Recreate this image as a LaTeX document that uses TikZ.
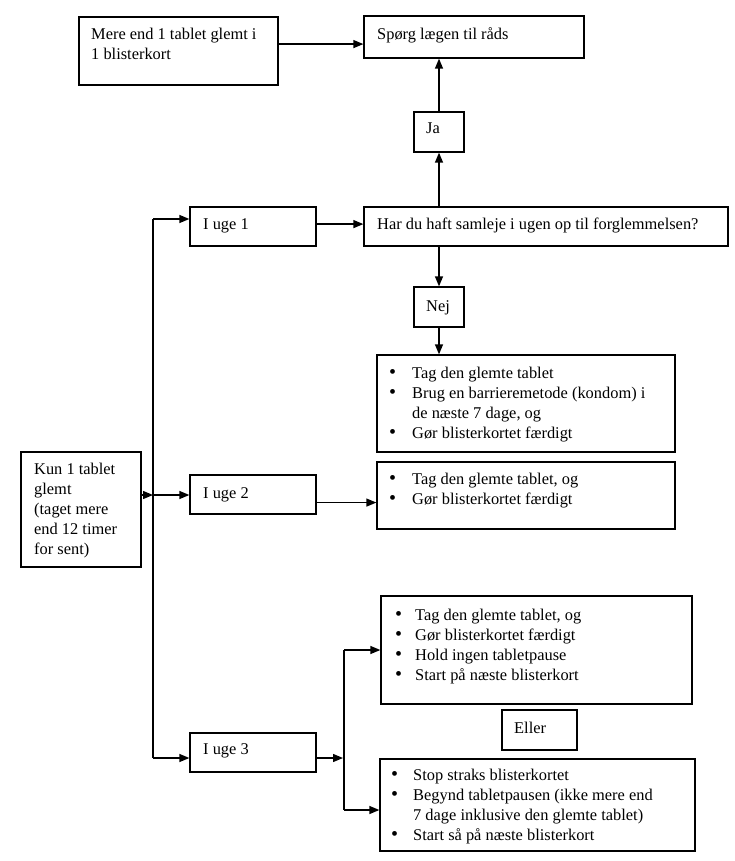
\documentclass[tikz,border=0pt]{standalone}
\usepackage{fontspec}
\setmainfont{Liberation Serif}
\usetikzlibrary{arrows.meta,fit,calc}
\newcommand{\mybul}[1]{\makebox[#1][l]{{\fontsize{20}{20}\selectfont\textbullet}}}
\begin{document}
\begin{tikzpicture}[x=1pt,y=-1pt,
  box/.style={draw, line width=1.3pt, inner sep=0pt, rectangle},
  txt/.style={inner sep=0pt, anchor=base west, font=\fontsize{16.4}{20}\selectfont},
  arr/.style={line width=1.3pt, -{Triangle[length=10pt,width=8pt]}},
  ln/.style={line width=1.3pt}]
\fill[white] (0,0) rectangle (735,861);
\useasboundingbox (0,0) rectangle (735,861);

% boxes
\node[box, fit={(79,17) (278,85)}] (A) {};
\node[box, fit={(364,16) (584,58)}] (B) {};
\node[box, fit={(414,112) (464,152)}] (Ja) {};
\node[box, fit={(190,207) (316,246)}] (U1) {};
\node[box, fit={(364,207) (728,246)}] (Har) {};
\node[box, fit={(414,287) (464,327)}] (Nej) {};
\node[box, fit={(377,355) (675,452)}] (B1) {};
\node[box, fit={(377,462) (675,529)}] (B2) {};
\node[box, fit={(21,452) (141,567)}] (Kun) {};
\node[box, fit={(190,475) (316,514)}] (U2) {};
\node[box, fit={(190,733) (316,772)}] (U3) {};
\node[box, fit={(381,596) (692,704)}] (B3) {};
\node[box, fit={(502,710) (577,750)}] (Eller) {};
\node[box, fit={(380,759) (695,851)}] (B4) {};

% texts
\node[txt] (At) at (91,40) {\begin{tabular}[t]{@{}l@{}}Mere end 1 tablet glemt i\\1 blisterkort\end{tabular}};
\node[txt] (Bt) at (377,40) {Spørg lægen til råds};
\node[txt] (Jat) at (426,134) {Ja};
\node[txt] (U1t) at (203,229) {I uge 1};
\node[txt] (Hart) at (377,229) {Har du haft samleje i ugen op til forglemmelsen?};
\node[txt] (Nejt) at (426,311) {Nej};
\node[txt] (B1t) at (389,378) {\begin{tabular}[t]{@{}l@{}}\mybul{23pt}Tag den glemte tablet\\\mybul{23pt}Brug en barrieremetode (kondom) i\\\hspace*{23pt}de næste 7 dage, og\\\mybul{23pt}Gør blisterkortet færdigt\end{tabular}};
\node[txt] (B2t) at (389,484) {\begin{tabular}[t]{@{}l@{}}\mybul{23pt}Tag den glemte tablet, og\\\mybul{23pt}Gør blisterkortet færdigt\end{tabular}};
\node[txt] (Kunt) at (34,474) {\begin{tabular}[t]{@{}l@{}}Kun 1 tablet\\glemt\\(taget mere\\end 12 timer\\for sent)\end{tabular}};
\node[txt] (U2t) at (203,498) {I uge 2};
\node[txt] (U3t) at (203,754) {I uge 3};
\node[txt] (B3t) at (395,620) {\begin{tabular}[t]{@{}l@{}}\mybul{20pt}Tag den glemte tablet, og\\\mybul{20pt}Gør blisterkortet færdigt\\\mybul{20pt}Hold ingen tabletpause\\\mybul{20pt}Start på næste blisterkort\end{tabular}};
\node[txt] (Ellert) at (514,733) {Eller};
\node[txt] (B4t) at (391,780) {\begin{tabular}[t]{@{}l@{}}\mybul{22pt}Stop straks blisterkortet\\\mybul{22pt}Begynd tabletpausen (ikke mere end\\\hspace*{22pt}7 dage inklusive den glemte tablet)\\\mybul{22pt}Start så på næste blisterkort\end{tabular}};

% connectors
\draw[arr] ($(A.north east)!0.4!(A.south east)$) coordinate (a1) -- (a1 -| B.west);
\draw[arr] (Ja.south |- Har.north) -- (Ja.south);
\draw[arr] (Ja.north) -- (Ja.north |- B.south);
\draw[arr] (Nej.north |- Har.south) -- (Nej.north);
\draw[arr] (Nej.south) -- (Nej.south |- B1.north);
\draw[arr] ($(U1.north east)!0.44!(U1.south east)$) coordinate (u1) -- (u1 -| Har.west);
\draw[arr] ($(U2.north east)!0.7!(U2.south east)$) coordinate (u2) -- (u2 -| B2.west);

\coordinate (s1) at (153,219);
\coordinate (s2) at (153,495);
\coordinate (s3) at (153,758);
\draw[arr] (Kun.east |- s2) -- (s2);
\draw[ln] (s1) -- (s3);
\draw[arr] (s1) -- (s1 -| U1.west);
\draw[arr] (s2) -- (s2 -| U2.west);
\draw[arr] (s3) -- (s3 -| U3.west);

\coordinate (f0) at (343,758);
\coordinate (f1) at (344,650);
\coordinate (f2) at (344,810);
\draw[arr] (U3.east |- f0) -- (f0);
\draw[ln] (f1) -- (f2);
\draw[arr] (f1) -- (f1 -| B3.west);
\draw[arr] (f2) -- (f2 -| B4.west);
\end{tikzpicture}
\end{document}
